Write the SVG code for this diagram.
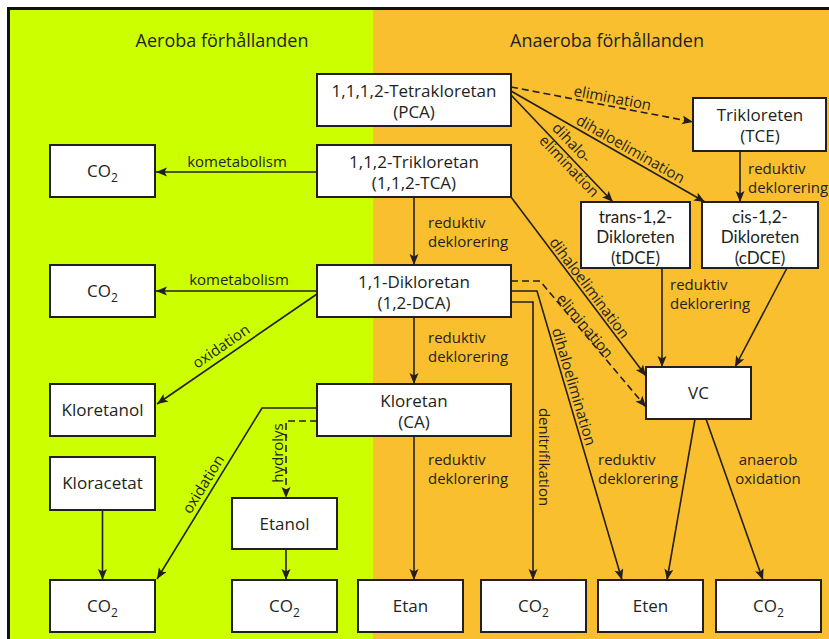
<svg xmlns="http://www.w3.org/2000/svg" width="829" height="639" viewBox="0 0 829 639">
<defs>
<style>
.box{fill:#fff;stroke:#231F20;stroke-width:2}
.t{font-family:"Open Sans","Noto Sans","DejaVu Sans",sans-serif;font-size:17px;fill:#231F20;text-anchor:middle}
.t3{font-family:Lato,"Open Sans","DejaVu Sans",sans-serif;font-size:17px;fill:#231F20;text-anchor:middle}
.l{font-family:"Open Sans","Noto Sans","DejaVu Sans",sans-serif;font-size:15px;fill:#231F20}
.m{text-anchor:middle}
.h{font-family:"Open Sans","Noto Sans","DejaVu Sans",sans-serif;font-size:18px;fill:#231F20;text-anchor:middle}
.c{fill:none;stroke:#231F20;stroke-width:1.6;marker-end:url(#a)}
.d{stroke-dasharray:7 4}
</style>
<marker id="a" markerUnits="userSpaceOnUse" markerWidth="12" markerHeight="10" refX="11" refY="4.5" orient="auto">
<path d="M0,0 L11,4.5 L0,9 L2.5,4.5 z" fill="#231F20"/>
</marker>
</defs>
<rect x="0" y="0" width="829" height="639" fill="#fff"/>
<rect x="9" y="9" width="364" height="630" fill="#CCFF00"/>
<rect x="373" y="9" width="456" height="630" fill="#F9BF2F"/>
<path d="M8.5,639 V8.5 H829" fill="none" stroke="#111" stroke-width="3"/>
<text class="h" x="222" y="47">Aeroba förhållanden</text>
<text class="h" x="607" y="47">Anaeroba förhållanden</text>

<g id="connectors">
<path class="c" d="M317,172 H156"/>
<path class="c" d="M317,291 H156"/>
<path class="c" d="M317,294 L157,404"/>
<path class="c" d="M414,197 V265"/>
<path class="c" d="M414,317 V384"/>
<path class="c" d="M414,436 V580"/>
<path class="c" d="M317,408 H262 L157,579"/>
<path class="c d" d="M317,421 H286 V498"/>
<path class="c" d="M102.5,510 V580"/>
<path class="c" d="M286,549 V580"/>
<path class="c" d="M511,302 H533 V580"/>
<path class="c" d="M511,291 H537 L622,580"/>
<path class="c d" d="M511,281 H540 L646,407"/>
<path class="c" d="M511,197 L646,376"/>
<path class="c d" d="M511,87 L693,122"/>
<path class="c" d="M511,91 L705,202"/>
<path class="c" d="M511,95 L613,202"/>
<path class="c" d="M740,151 V202"/>
<path class="c" d="M662,268 V367"/>
<path class="c" d="M787,268 L735,367"/>
<path class="c" d="M695,419 L667,580"/>
<path class="c" d="M706,419 L763,580"/>
<text class="l m" x="237" y="167">kometabolism</text>
<text class="l m" x="239" y="285">kometabolism</text>
<text class="l" x="428" y="228">reduktiv<tspan x="428" dy="19">deklorering</tspan></text>
<text class="l" x="428" y="343">reduktiv<tspan x="428" dy="19">deklorering</tspan></text>
<text class="l" x="428" y="464.5">reduktiv<tspan x="428" dy="19">deklorering</tspan></text>
<text class="l" x="670" y="290">reduktiv<tspan x="670" dy="19">deklorering</tspan></text>
<text class="l" x="748" y="173.5">reduktiv<tspan x="748" dy="19">deklorering</tspan></text>
<text class="l" x="598" y="464.5">reduktiv<tspan x="598" dy="19">deklorering</tspan></text>
<text class="l m" x="768" y="464.5">anaerob<tspan x="768" dy="19">oxidation</tspan></text>
<text class="l m" transform="translate(611,106) rotate(10.9)" x="0" y="-3">elimination</text>
<text class="l m" transform="translate(626,157) rotate(29.8)" x="0" y="-4">dihaloelimination</text>
<text class="l" transform="translate(547,133) rotate(46.4)" x="0" y="-6">dihalo-<tspan x="0" dy="18">elimination</tspan></text>
<text class="l m" transform="translate(583,293) rotate(53)" x="0" y="-3">dihaloelimination</text>
<text class="l m" transform="translate(581,329) rotate(50)" x="0" y="0">elimination</text>
<text class="l m" transform="translate(566,389) rotate(73.6)" x="0" y="-3">dihaloelimination</text>
<text class="l m" transform="translate(539,457) rotate(90)" x="0" y="0">denitrifikation</text>
<text class="l m" transform="translate(283,453) rotate(-90)" x="0" y="0">hydrolys</text>
<text class="l m" transform="translate(227.5,355.5) rotate(-34.5)" x="0" y="-6">oxidation</text>
<text class="l m" transform="translate(212,489.5) rotate(-58.4)" x="0" y="-5">oxidation</text>
</g>

<g id="pca"><rect class="box" x="317" y="74" width="194" height="52"/><text class="t" x="414" y="97">1,1,1,2-Tetrakloretan<tspan x="414" dy="21">(PCA)</tspan></text></g>
<g id="tca"><rect class="box" x="317" y="145" width="194" height="52"/><text class="t" x="414" y="168">1,1,2-Trikloretan<tspan x="414" dy="21">(1,1,2-TCA)</tspan></text></g>
<g id="dca"><rect class="box" x="317" y="265" width="194" height="52"/><text class="t" x="414" y="288">1,1-Dikloretan<tspan x="414" dy="21">(1,2-DCA)</tspan></text></g>
<g id="ca"><rect class="box" x="317" y="384" width="194" height="52"/><text class="t" x="414" y="407">Kloretan<tspan x="414" dy="21">(CA)</tspan></text></g>
<g id="tce"><rect class="box" x="693" y="98" width="133" height="53"/><text class="t" x="760" y="121">Trikloreten<tspan x="760" dy="21">(TCE)</tspan></text></g>
<g id="tdce"><rect class="box" x="581" y="202" width="109" height="66"/><text class="t3" x="635.5" y="222.5">trans-1,2-<tspan x="635.5" dy="20.5">Dikloreten</tspan><tspan x="635.5" dy="20.5">(tDCE)</tspan></text></g>
<g id="cdce"><rect class="box" x="702" y="202" width="116" height="66"/><text class="t3" x="760" y="222.5">cis-1,2-<tspan x="760" dy="20.5">Dikloreten</tspan><tspan x="760" dy="20.5">(cDCE)</tspan></text></g>
<g id="vc"><rect class="box" x="646" y="367" width="105" height="52"/><text class="t" x="698.5" y="399">VC</text></g>
<g id="co2-a"><rect class="box" x="50" y="145" width="105" height="52"/><text class="t" x="102.5" y="177">CO<tspan font-size="12" dy="5">2</tspan></text></g>
<g id="co2-b"><rect class="box" x="50" y="265" width="105" height="52"/><text class="t" x="102.5" y="297">CO<tspan font-size="12" dy="5">2</tspan></text></g>
<g id="kloretanol"><rect class="box" x="50" y="384" width="105" height="52"/><text class="t" x="102.5" y="416">Kloretanol</text></g>
<g id="kloracetat"><rect class="box" x="50" y="457" width="105" height="53"/><text class="t" x="102.5" y="489">Kloracetat</text></g>
<g id="co2-c"><rect class="box" x="50" y="580" width="105" height="52"/><text class="t" x="102.5" y="612">CO<tspan font-size="12" dy="5">2</tspan></text></g>
<g id="etanol"><rect class="box" x="232" y="498" width="105" height="51"/><text class="t" x="284.5" y="530">Etanol</text></g>
<g id="co2-d"><rect class="box" x="232" y="580" width="105" height="52"/><text class="t" x="284.5" y="612">CO<tspan font-size="12" dy="5">2</tspan></text></g>
<g id="etan"><rect class="box" x="358" y="580" width="105" height="52"/><text class="t" x="410.5" y="612">Etan</text></g>
<g id="co2-e"><rect class="box" x="481" y="580" width="105" height="52"/><text class="t" x="533.5" y="612">CO<tspan font-size="12" dy="5">2</tspan></text></g>
<g id="eten"><rect class="box" x="598" y="580" width="105" height="52"/><text class="t" x="650.5" y="612">Eten</text></g>
<g id="co2-f"><rect class="box" x="716" y="580" width="105" height="52"/><text class="t" x="768.5" y="612">CO<tspan font-size="12" dy="5">2</tspan></text></g>
</svg>
